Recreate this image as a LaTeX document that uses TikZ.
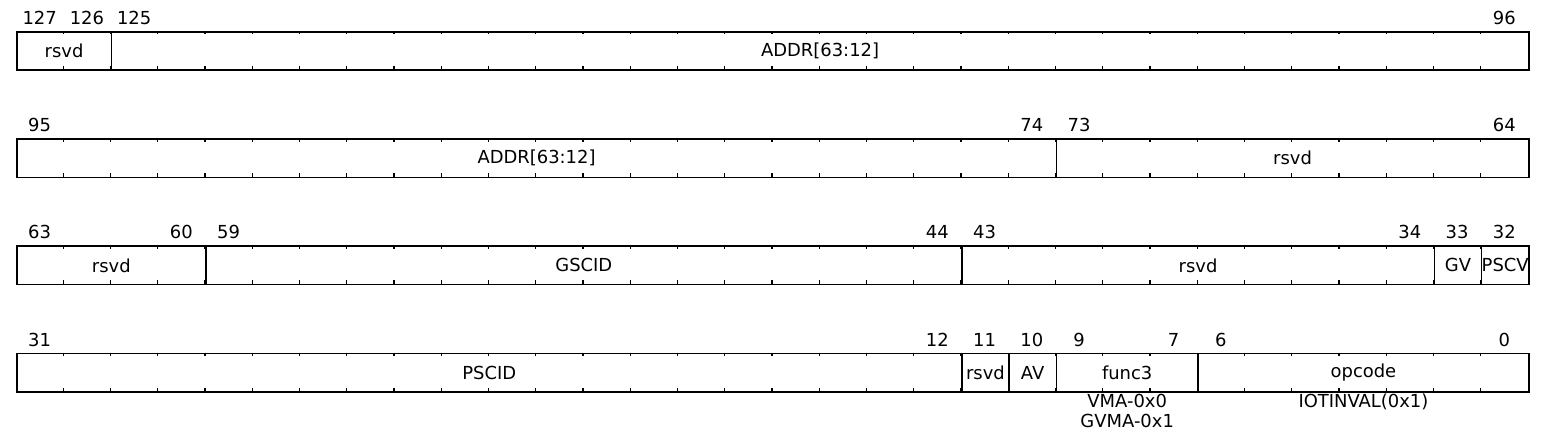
\documentclass[tikz,border=0pt]{standalone}
\usepackage{fontspec}
\setmainfont{DejaVu Sans}
\usetikzlibrary{positioning}

\tikzset{
  field/.style={draw, line width=1.6bp, inner sep=0pt, minimum height=38.4bp, anchor=north west},
  bitnum/.style={anchor=base, inner sep=0pt},
  attr/.style={align=center, inner sep=0pt},
  bittick/.style={line width=1.4bp}
}
\newcommand{\bitw}{47.25}

\begin{document}
\begin{tikzpicture}[x=1bp, y=-1bp, font=\fontsize{18}{20}\selectfont]
\useasboundingbox (0,0) rectangle (1564,446);

% small ticks between the bits
\foreach \row in {0,...,3}
  \foreach \k in {1,...,31}
    \draw[bittick] (16+\k*\bitw, 31+107.2*\row) -- ++(0,3.5)
                   (16+\k*\bitw, 69.4+107.2*\row) -- ++(0,-3.5);

% fields: row/msb/lsb/name
\foreach \row/\hi/\lo/\lbl in {0/127/126/rsvd, 0/125/96/{ADDR[63:12]},
    1/95/74/{ADDR[63:12]}, 1/73/64/rsvd,
    2/63/60/rsvd, 2/59/44/GSCID, 2/43/34/rsvd, 2/33/33/GV, 2/32/32/PSCV,
    3/31/12/PSCID, 3/11/11/rsvd, 3/10/10/AV, 3/9/7/func3, 3/6/0/opcode}{
  \pgfmathsetmacro\xa{16+(31-mod(\hi,32))*\bitw}
  \pgfmathsetmacro\fw{(\hi-\lo+1)*\bitw}
  \pgfmathsetmacro\ya{31+107.2*\row}
  \node[field, minimum width=\fw bp] (f\hi) at (\xa,\ya) {\lbl};
  \node[bitnum] (n\hi) at (\xa+0.5*\bitw, \ya-6.5) {\hi};
  \ifnum\hi>\lo
    \node[bitnum] (n\lo) at (\xa+\fw-0.5*\bitw, \ya-6.5) {\lo};
  \fi
}

\node[attr, below=1bp of f9] (vma) {VMA-0x0\\GVMA-0x1};
\node[attr, below=1bp of f6] (iotinval) {IOTINVAL(0x1)};
\end{tikzpicture}
\end{document}
